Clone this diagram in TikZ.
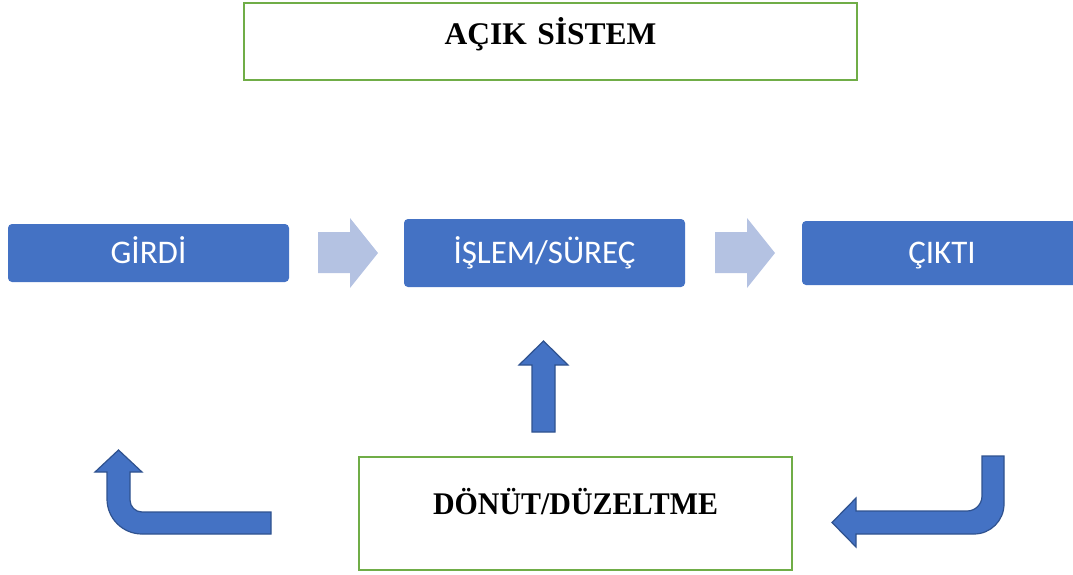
\documentclass[tikz,border=0pt]{standalone}
\usepackage{fontspec}
\setmainfont{Liberation Serif}
\newfontfamily\boxfont{Carlito}
\newfontfamily\narrowserif[FakeStretch=0.95]{Liberation Serif}
\definecolor{boxblue}{RGB}{68,114,196}
\definecolor{arrowedge}{RGB}{47,82,143}
\definecolor{paleblue}{RGB}{180,194,226}
\definecolor{framegreen}{RGB}{112,173,71}
\begin{document}
\begin{tikzpicture}[x=1pt,y=-1pt,
		stepbox/.style={fill=boxblue,rounded corners=4pt,text=white,inner sep=0pt,
			text height=21.3pt,text depth=0pt,font=\boxfont\fontsize{33}{36}\selectfont},
		framebox/.style={draw=framegreen,line width=2.6pt,inner sep=0pt,align=center},
		chevron/.style={fill=paleblue},
		blockarrow/.style={fill=boxblue,draw=arrowedge,line width=1.2pt}]
	\useasboundingbox (0,0) rectangle (1073,574);
	% green frames, text sits near the top
	\node[framebox,text width=613pt,text height=41.3pt,text depth=35.7pt,
		font=\bfseries\fontsize{31.5}{34}\selectfont] (system) at (550.5,41.5) {AÇIK SİSTEM};
	\node[framebox,text width=433pt,text height=57.3pt,text depth=55.7pt,
		font=\narrowserif\bfseries\fontsize{31.5}{34}\selectfont] (feedback) at (575.5,513.5) {DÖNÜT/DÜZELTME};
	% blue steps
	\node[stepbox,minimum width=281pt,minimum height=58pt] (input) at (148.5,253) {GİRDİ};
	\node[stepbox,minimum width=281pt,minimum height=68pt] (process) at (544.5,253) {İŞLEM/SÜREÇ};
	\node[stepbox,minimum width=280pt,minimum height=64pt] (output) at (942,253) {ÇIKTI};
	% pale arrows between steps
	\foreach \dx in {0,397}
	\fill[chevron,xshift=\dx pt] (318,232) -- (350,232) -- (350,218) -- (378,253)
		-- (350,288) -- (350,273) -- (318,273) -- cycle;
	% feedback arrows
	\draw[blockarrow] (532,432) -- (532,365) -- (519,365) -- (543.5,341) -- (568,365)
		-- (555,365) -- (555,432) -- cycle;
	\draw[blockarrow] (982,456) -- (1004,456) -- (1004,504) arc(0:90:30) -- (856,534)
		-- (856,547) -- (832,522.5) -- (856,498) -- (856,511) -- (967,511) arc(90:0:15) -- cycle;
	\draw[blockarrow] (271,534) -- (142,534) arc(90:180:35) -- (107,472) -- (95,472)
		-- (118.5,450) -- (142,472) -- (130,472) -- (130,500) arc(180:90:12) -- (271,512) -- cycle;
\end{tikzpicture}
\end{document}
